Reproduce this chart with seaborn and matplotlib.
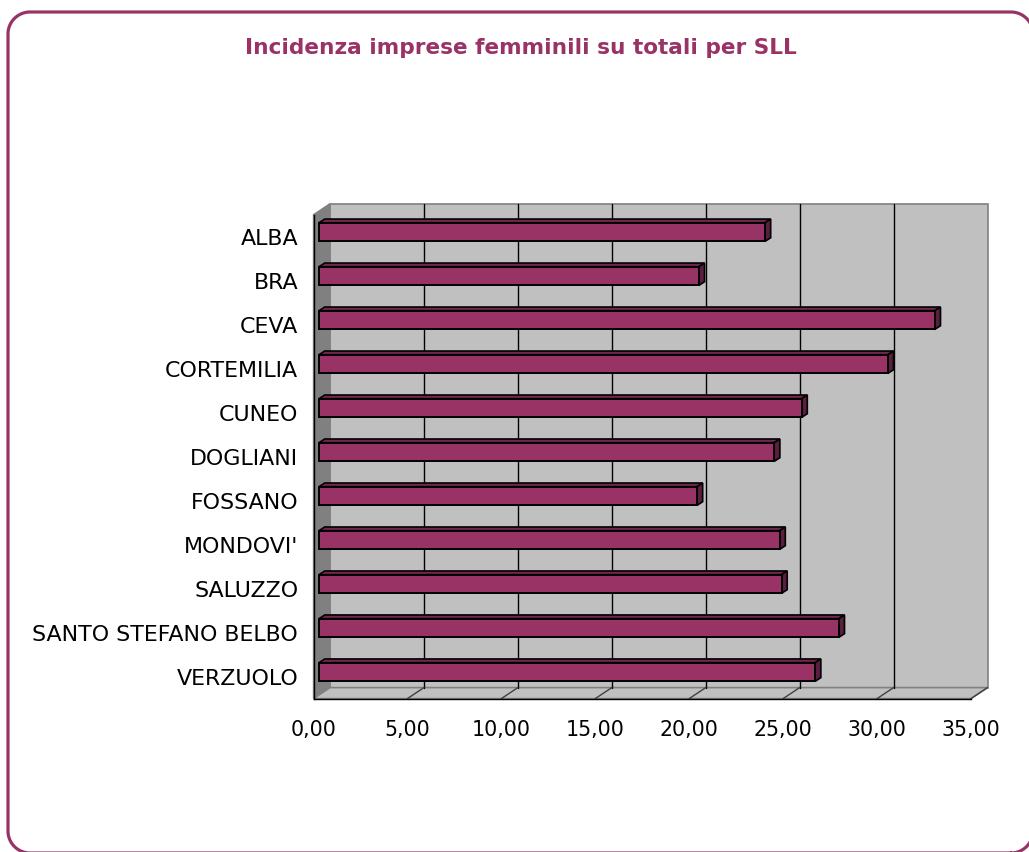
import matplotlib
matplotlib.use("Agg")
import matplotlib.pyplot as plt
from matplotlib.patches import Polygon, Rectangle
from matplotlib.ticker import FixedLocator
import numpy as np
import seaborn as sns
import pandas as pd

# Sistemi Locali del Lavoro (SLL) and share of female-owned firms (%)
categories = ["ALBA", "BRA", "CEVA", "CORTEMILIA", "CUNEO", "DOGLIANI",
              "FOSSANO", "MONDOVI'", "SALUZZO", "SANTO STEFANO BELBO", "VERZUOLO"]
incidenza = [23.74, 20.22, 32.78, 30.28, 25.69, 24.23, 20.12, 24.52, 24.62, 27.67, 26.41]
x_ticks = [0, 5, 10, 15, 20, 25, 30, 35]
x_tick_labels = ["0,00", "5,00", "10,00", "15,00", "20,00", "25,00", "30,00", "35,00"]
title = "Incidenza imprese femminili su totali per SLL"

PLUM = "#993366"
PLUM_TOP = "#732650"
PLUM_SIDE = "#5a1e3e"
WALL = "#c0c0c0"
WALL_DARK = "#808080"

sns.set_theme(style="white")
plt.rcParams["font.family"] = ["DejaVu Sans"]

W, H = 1029, 852
fig = plt.figure(figsize=(W / 100, H / 100), dpi=100)
fig.patch.set_facecolor("white")

# front plane of the plot area, in pixels
left_px, right_px = 313.5, 971.0
top_px, bottom_px = 214.7, 698.6
ax = fig.add_axes([left_px / W, (H - bottom_px) / H,
                   (right_px - left_px) / W, (bottom_px - top_px) / H])
ax.set_facecolor("none")

df = pd.DataFrame({"SLL": categories, "Incidenza": incidenza})
sns.barplot(data=df, x="Incidenza", y="SLL", orient="h", color=PLUM,
            width=0.425, edgecolor="black", linewidth=1.4, saturation=1,
            ax=ax, zorder=3)

xmax = x_ticks[-1]
n = len(categories)
ax.set_xlim(0, xmax)
ax.set_ylim(n - 0.5, -0.5)

# pixel -> data unit conversion for the oblique depth effect
ux = (right_px - left_px) / xmax
uy = (bottom_px - top_px) / n
def depth(px_x, px_y):
    return px_x / ux, -px_y / uy

wx, wy = depth(16.5, 11.0)        # full depth of the box
bx0, by0 = depth(5.5, 4.6)        # front face of the bars
bdx, bdy = depth(5.7, 3.7)        # thickness of the bars

y_top, y_bot = -0.5, n - 0.5

# back wall, side wall and floor
ax.add_patch(Rectangle((wx, y_top + wy), xmax, n, facecolor=WALL,
                       edgecolor=WALL_DARK, lw=1.2, zorder=0, clip_on=False))
ax.add_patch(Polygon([(0, y_top), (wx, y_top + wy), (wx, y_bot + wy), (0, y_bot)],
                     closed=True, facecolor=WALL_DARK, edgecolor=WALL_DARK,
                     lw=1, zorder=0.2, clip_on=False))
ax.add_patch(Polygon([(0, y_bot), (wx, y_bot + wy), (xmax + wx, y_bot + wy), (xmax, y_bot)],
                     closed=True, facecolor=WALL, edgecolor=WALL_DARK,
                     lw=1.2, zorder=0.2, clip_on=False))

# gridlines on back wall and floor
for xv in x_ticks[1:]:
    if xv < xmax:
        ax.plot([xv + wx, xv + wx], [y_top + wy, y_bot + wy], color="black",
                lw=1, zorder=0.5, clip_on=False)
    ax.plot([xv, xv + wx], [y_bot, y_bot + wy], color="#404040",
            lw=1, zorder=0.5, clip_on=False)

# move bars to their depth and add top and side faces
for p in list(ax.containers[0]):
    x0, y0 = p.get_x(), p.get_y()
    w, h = p.get_width(), p.get_height()
    x0 += bx0
    y0 += by0
    p.set_x(x0)
    p.set_y(y0)
    p.set_clip_on(False)
    x1, y1 = x0 + w, y0 + h
    top = Polygon([(x0, y0), (x0 + bdx, y0 + bdy), (x1 + bdx, y0 + bdy), (x1, y0)],
                  closed=True, facecolor=PLUM_TOP, edgecolor="black", lw=1.2,
                  zorder=2.9, clip_on=False)
    side = Polygon([(x1, y0), (x1 + bdx, y0 + bdy), (x1 + bdx, y1 + bdy), (x1, y1)],
                   closed=True, facecolor=PLUM_SIDE, edgecolor="black", lw=1.2,
                   zorder=2.9, clip_on=False)
    ax.add_patch(top)
    ax.add_patch(side)

# axes
for s in ("top", "right"):
    ax.spines[s].set_visible(False)
for s in ("left", "bottom"):
    ax.spines[s].set_color("black")
    ax.spines[s].set_linewidth(1.0)
    ax.spines[s].set_zorder(4)

ax.set_xticks(x_ticks)
ax.set_xticklabels(x_tick_labels, fontsize=14.8, color="black")
ax.tick_params(axis="x", direction="out", length=7.2, width=1, color="black", pad=8)
ax.yaxis.set_minor_locator(FixedLocator([i - 0.5 for i in range(n + 1)]))
ax.tick_params(axis="y", which="major", length=0, pad=11, labelsize=15.9, labelcolor="black")
ax.tick_params(axis="y", which="minor", direction="out", length=7.2, width=1, color="black")
ax.set_xlabel("")
ax.set_ylabel("")
ax.grid(False)

fig.text(521 / W, 1 - 48 / H, title, ha="center", va="center",
         fontsize=15.6, fontweight="bold", color=PLUM)

# rounded frame around the chart area, built as a polyline in pixels
def rounded_rect(x0, y0, x1, y1, r, steps=24):
    pts = []
    corners = [(x1 - r, y0 + r, 270, 360), (x1 - r, y1 - r, 0, 90),
               (x0 + r, y1 - r, 90, 180), (x0 + r, y0 + r, 180, 270)]
    for cx, cy, a0, a1 in corners:
        t = np.radians(np.linspace(a0, a1, steps))
        pts.extend(zip(cx + r * np.cos(t), cy + r * np.sin(t)))
    pts.append(pts[0])
    return np.array(pts)

# pixel box: left 8, right 1033, top 12, bottom 853 (y measured from the top)
outline = rounded_rect(8, H - 853, 1033, H - 12, 22)
fig.add_artist(plt.Line2D(outline[:, 0] / W, outline[:, 1] / H,
                          transform=fig.transFigure, color=PLUM, lw=2.3,
                          solid_joinstyle="round", zorder=10))

fig.savefig("out.png", dpi=100)
